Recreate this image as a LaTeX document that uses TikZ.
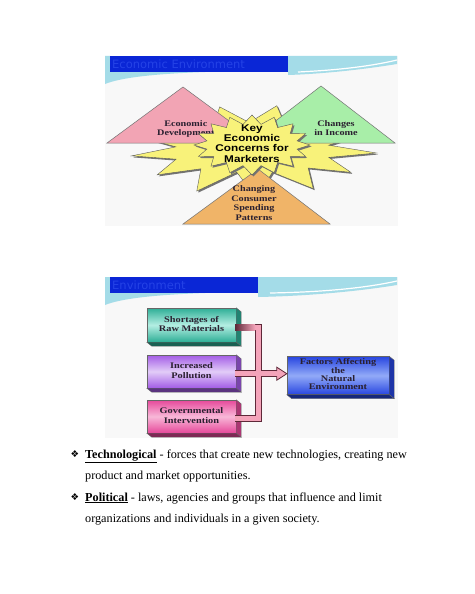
\documentclass[tikz,border=0pt]{standalone}
\usepackage{fontspec}
\setmainfont{Liberation Serif}
\newfontfamily\hsans{DejaVu Sans}
\newfontfamily\asans{Liberation Sans}
\newfontfamily\symf{DejaVu Sans}
\usetikzlibrary{calc}
\definecolor{hdrblue}{HTML}{0A26D6}
\definecolor{hdrtext}{HTML}{2442E6}
\definecolor{swcyan}{HTML}{A4DCE8}
\definecolor{slidebg}{HTML}{F8F8F8}
\definecolor{pinkT}{HTML}{F2A4B4}
\definecolor{greenT}{HTML}{A8EEA8}
\definecolor{orangeT}{HTML}{F0B468}
\definecolor{starY}{HTML}{F8F27A}
\definecolor{txtdark}{HTML}{2A2030}
\definecolor{tealD}{HTML}{2DAE96}\definecolor{tealL}{HTML}{B4EEE2}
\definecolor{purD}{HTML}{A35CE6}\definecolor{purL}{HTML}{E2CCF8}
\definecolor{pnkD}{HTML}{E6489A}\definecolor{pnkL}{HTML}{F8B8D8}
\definecolor{bluD}{HTML}{2846E0}\definecolor{bluL}{HTML}{92AAF8}
\definecolor{busP}{HTML}{F4A4BA}
\definecolor{busO}{HTML}{5E2838}
\newcommand{\sx}[2][1.2]{\scalebox{#1}[1]{\begin{tabular}{@{}c@{}}#2\end{tabular}}}
\tikzset{
  hdr/.style={fill=hdrblue, inner sep=0, anchor=north west},
  hdrtxt/.style={anchor=west, inner sep=0, text=hdrtext, font=\hsans\fontsize{11.5}{12}\selectfont},
  tri/.style={draw=black!55, line width=0.5},
  tritxt/.style={inner sep=0, text=txtdark, font=\bfseries\fontsize{8.5}{9.6}\selectfont},
  keytxt/.style={inner sep=0, text=black, font=\asans\bfseries\fontsize{9.8}{9.8}\selectfont},
  fbox/.style={draw=black!60, line width=0.4, inner sep=0, text=txtdark,
     font=\bfseries\fontsize{8.6}{9.8}\selectfont},
  bodytxt/.style={anchor=base west, inner sep=0, font=\fontsize{12.2}{14}\selectfont},
  bul/.style={anchor=base west, inner sep=0, font=\symf\fontsize{9.5}{12}\selectfont},
  busshadow/.style={draw=black!25, line width=7},
  busout/.style={draw=busO, line width=7},
  busin/.style={draw=busP, line width=5.4},
  starshape/.style={fill=starY, draw=black!65, line width=0.4}
}
\begin{document}
\begin{tikzpicture}[x=1pt,y=-1pt]
\useasboundingbox (0,0) rectangle (474,594);
\fill[white] (0,0) rectangle (474,594);

% ---------- slide 1 ----------
\fill[slidebg] (105,56) rectangle (398,226);
\fill[swcyan] (288,56) -- (397,56) -- (397,64) .. controls (360,70) and (320,74) .. (288,75) -- cycle;
\draw[white, line width=1.2] (298,72) .. controls (340,70) and (372,66) .. (397,60);
\fill[swcyan] (105,56) -- (110,56) -- (110,72) -- (205,72) .. controls (150,74) and (120,78) .. (105,84) -- cycle;
\node[hdr, minimum width=178, minimum height=16] (hA) at (110,56) {};
\node[hdrtxt] (hAt) at ($(hA.west)+(2,0)$) {Economic Environment};

% big star (shadow, then star)
\fill[black!55]
  ({253.5+125*cos(5)},{150.5+46*sin(5)})
  \foreach \i in {1,...,25} {
    -- ({253.5+(mod(\i,2)==0 ? 125 : 78)*(1+0.06*sin(\i*137))*cos(\i*360/26+5)},
        {150.5+(mod(\i,2)==0 ? 46 : 25)*(1+0.06*sin(\i*137))*sin(\i*360/26+5)})
  } -- cycle;
\filldraw[starshape]
  ({252+125*cos(5)},{149+46*sin(5)})
  \foreach \i in {1,...,25} {
    -- ({252+(mod(\i,2)==0 ? 125 : 78)*(1+0.06*sin(\i*137))*cos(\i*360/26+5)},
        {149+(mod(\i,2)==0 ? 46 : 25)*(1+0.06*sin(\i*137))*sin(\i*360/26+5)})
  } -- cycle;

% triangles
\filldraw[tri, fill=pinkT] (183,87) -- (107,143) -- (259,143) -- cycle;
\node[tritxt, anchor=west] (tED) at (157,129) {\sx{Economic\\Development}};
\filldraw[tri, fill=greenT] (321,86) -- (247,143) -- (395,143) -- cycle;
\node[tritxt] (tCI) at (336,129) {\sx{Changes\\in Income}};
\filldraw[tri, fill=orangeT] (258,169) -- (183,224) -- (330,224) -- cycle;

% inner star
\fill[black!55]
  ({253.5+58*cos(0)},{146.5+29*sin(0)})
  \foreach \i in {1,...,31} {
    -- ({253.5+(mod(\i,2)==0 ? 58 : 46)*cos(\i*360/32)},
        {146.5+(mod(\i,2)==0 ? 30 : 21)*sin(\i*360/32)})
  } -- cycle;
\filldraw[starshape]
  ({252+58*cos(0)},{145+29*sin(0)})
  \foreach \i in {1,...,31} {
    -- ({252+(mod(\i,2)==0 ? 58 : 46)*cos(\i*360/32)},
        {145+(mod(\i,2)==0 ? 30 : 21)*sin(\i*360/32)})
  } -- cycle;
\node[keytxt] (key) at (252,145) {\sx{Key\\Economic\\Concerns for\\Marketers}};
\node[tritxt] (tCS) at (254,204) {\sx{Changing\\Consumer\\Spending\\Patterns}};

% ---------- slide 2 ----------
\fill[slidebg] (105,277) rectangle (398,438);
\fill[swcyan] (258,277) -- (397,277) -- (397,285) .. controls (360,291) and (310,296) .. (258,297) -- cycle;
\draw[white, line width=1.2] (270,293) .. controls (330,292) and (370,287) .. (397,281);
\fill[swcyan] (105,277) -- (110,277) -- (110,293) -- (205,293) .. controls (150,295) and (120,299) .. (105,305) -- cycle;
\node[hdr, minimum width=148, minimum height=16] (hB) at (110,277) {};
\node[hdrtxt] (hBt) at ($(hB.west)+(2,0)$) {Environment};

% boxes
\node[fbox, top color=tealD, bottom color=tealD, middle color=tealL, minimum width=89, minimum height=34] (b1) at (191.5,325) {\sx{Shortages of\\Raw Materials}};
\node[fbox, top color=purD, bottom color=purD, middle color=purL, minimum width=89, minimum height=33] (b2) at (191.5,371.5) {\sx{Increased\\Pollution}};
\node[fbox, top color=pnkD, bottom color=pnkD, middle color=pnkL, minimum width=89, minimum height=33] (b3) at (191.5,416.5) {\sx{Governmental\\Intervention}};
\node[fbox, top color=bluD, bottom color=bluD, middle color=bluL, minimum width=102, minimum height=38,
      font=\bfseries\fontsize{8.6}{8.2}\selectfont] (f) at (338,375.5) {\sx{Factors Affecting\\the\\Natural\\Environment}};

\foreach \b/\c in {b1/tealD, b2/purD, b3/pnkD, f/bluD} {
  \filldraw[fill=\c!75!black, draw=black!60, line width=0.4] (\b.north east) -- ++(5,4) -- ($(\b.south east)+(5,4)$) -- (\b.south east) -- cycle;
  \filldraw[fill=\c!55!black, draw=black!60, line width=0.4] (\b.south west) -- ++(5,4) -- ($(\b.south east)+(5,4)$) -- (\b.south east) -- cycle;
}

% bus connector
\coordinate (a1) at ($(b1.east)+(-1,2.5)$);
\coordinate (a2) at ($(b2.east)+(-1,2.2)$);
\coordinate (a3) at ($(b3.east)+(-1,2)$);
\coordinate (bt) at ($(a1)+(23.5,0)$);
\coordinate (bb) at (bt |- a3);
\coordinate (tip) at (a2 -| f.west);
\coordinate (hb) at ($(tip)+(-10,0)$);
\begin{scope}[shift={(1.5,1.5)}]
\draw[busshadow] (a1) -- (bt) -- (bb) -- (a3);
\draw[busshadow] (a2) -- (hb);
\fill[black!25] ($(hb)+(0,-6.5)$) -- (tip) -- ($(hb)+(0,6.5)$) -- cycle;
\end{scope}
\draw[busout] (a1) -- (bt) -- (bb) -- (a3);
\draw[busout] (a2) -- (hb);
\draw[busin] (a1) -- (bt) -- (bb) -- (a3);
\draw[busin] (a2) -- (hb);
\shade[left color=busO, right color=busP] ($(a1)+(0,-2.7)$) rectangle ($(bt)+(-3.5,2.7)$);
\fill[busP] ($(hb)+(0,-6.5)$) -- (tip) -- ($(hb)+(0,6.5)$) -- cycle;
\draw[busO, line width=0.8, line join=miter] ($(hb)+(0,-2.7)$) -- ($(hb)+(0,-6.5)$) -- (tip) -- ($(hb)+(0,6.5)$) -- ($(hb)+(0,2.7)$);

% ---------- body text ----------
\node[bul] (bu1) at (70.5,457.5) {❖};
\node[bodytxt] (l1) at (85,458) {\underline{\textbf{Technological}} - forces that create new technologies, creating new};
\node[bodytxt] (l2) at (85,479.5) {product and market opportunities.};
\node[bul] (bu2) at (70.5,500.5) {❖};
\node[bodytxt] (l3) at (85,501) {\underline{\textbf{Political}} - laws, agencies and groups that influence and limit};
\node[bodytxt] (l4) at (85,522.5) {organizations and individuals in a given society.};
\end{tikzpicture}
\end{document}
